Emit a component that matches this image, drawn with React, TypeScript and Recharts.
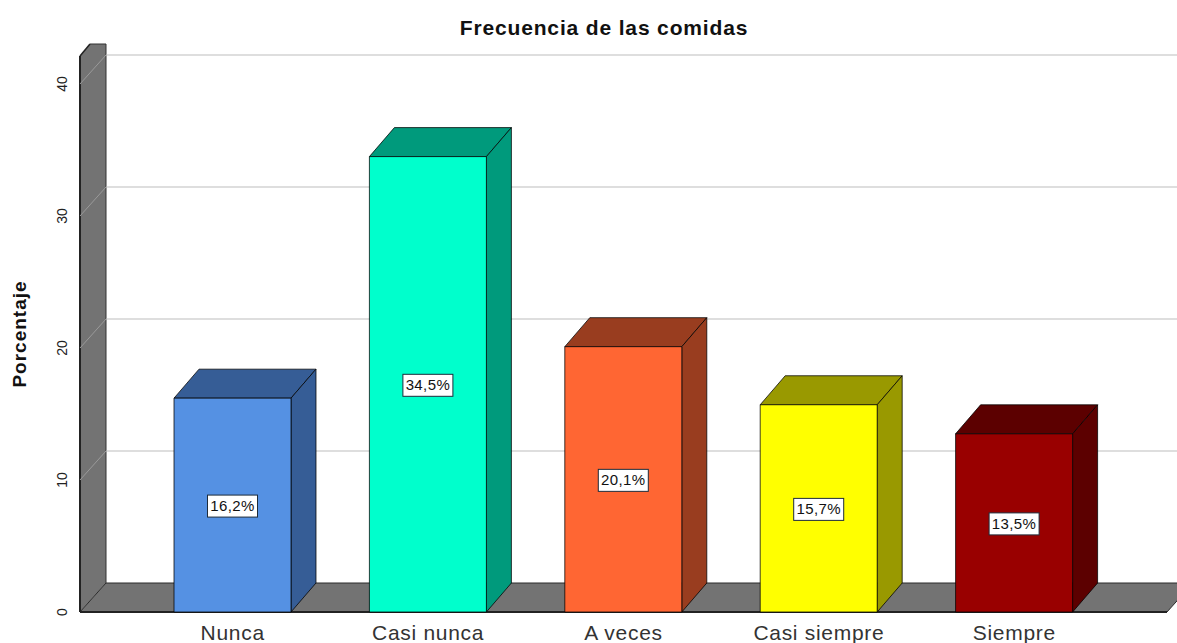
import { Bar, BarChart, Cell, LabelList, ReferenceArea, ReferenceLine, XAxis, YAxis } from 'recharts';

const categories = ['Nunca', 'Casi nunca', 'A veces', 'Casi siempre', 'Siempre'];
const percentages = [16.2, 34.5, 20.1, 15.7, 13.5];
const yTicks = [0, 10, 20, 30, 40];
const gridValues = [10, 20, 30, 40];
const frontColors = ['#5591e3', '#00ffcc', '#ff6633', '#ffff00', '#990000'];
const sideColors = ['#365d96', '#009a7c', '#993d1f', '#999900', '#5c0000'];

const data = categories.map((name, i) => ({ name, value: percentages[i] }));

const FONT = '"Liberation Sans", Arial, sans-serif';
// 3d offset of the back wall
const DX = 25;
const DY = 29;
// x axis padding, the reference area only spans the padded range
const PAD = 55;

// gray wall + floor, takes the plot rectangle from the reference area
function WallAndFloor({ x: bandLeft, y, width, height }: any) {
  const x = bandLeft - PAD;
  const bottom = y + height;
  const right = bandLeft + width + PAD;
  return (
    <g>
      <polygon
        points={`${x},${bottom} ${x},${y - 28} ${x + 10},${y - 40} ${x + DX + 1},${y - 40} ${x + DX + 1},${bottom - DY} `}
        fill="#737373"
      />
      <polygon
        points={`${x},${bottom} ${x + DX + 1},${bottom - DY} ${right + DX + 1},${bottom - DY} ${right},${bottom}`}
        fill="#737373"
        stroke="#2b2b2b"
        strokeWidth={1}
      />
      <line x1={x} y1={bottom} x2={x} y2={y - 28} stroke="#222" strokeWidth={2} />
      <line x1={x} y1={y - 28} x2={x + 10} y2={y - 40} stroke="#222" strokeWidth={1.5} />
      <line x1={x + 10} y1={y - 40} x2={x + DX + 1} y2={y - 40} stroke="#333" strokeWidth={1} />
      <line x1={x + DX + 1} y1={y - 40} x2={x + DX + 1} y2={bottom - DY} stroke="#333" strokeWidth={1} />
      <line x1={x} y1={bottom} x2={right} y2={bottom} stroke="#222" strokeWidth={2} />
    </g>
  );
}

// gridline on the back wall, with the diagonal across the side wall
function WallGridLine({ x1, y1, x2 }: any) {
  return (
    <g>
      <line x1={x1 + DX + 1} y1={y1 - DY} x2={x2 + DX + 1} y2={y1 - DY} stroke="#bdbdbd" strokeWidth={1} />
      <line x1={x1} y1={y1} x2={x1 + DX + 1} y2={y1 - DY} stroke="#9a9a9a" strokeWidth={1} />
    </g>
  );
}

function Bar3D({ x, y, width, height, index }: any) {
  const side = sideColors[index];
  const edge = 'rgba(0,0,0,0.75)';
  return (
    <g stroke={edge} strokeWidth={1} strokeLinejoin="round">
      <polygon points={`${x},${y} ${x + DX},${y - DY} ${x + width + DX},${y - DY} ${x + width},${y}`} fill={side} />
      <polygon
        points={`${x + width},${y} ${x + width + DX},${y - DY} ${x + width + DX},${y + height - DY} ${x + width},${y + height}`}
        fill={side}
      />
      <rect x={x} y={y} width={width} height={height} fill={frontColors[index]} />
    </g>
  );
}

function ValueLabel({ x, y, width, height, value }: any) {
  const cx = x + width / 2;
  const cy = y + height / 2 + 1;
  return (
    <g>
      <rect x={cx - 25} y={cy - 11} width={50} height={22} fill="#fff" stroke="#1d2b3a" strokeWidth={1} />
      <text x={cx} y={cy + 5} textAnchor="middle" fontFamily={FONT} fontSize={15} letterSpacing={0.4} fill="#111">
        {`${String(value).replace('.', ',')}%`}
      </text>
    </g>
  );
}

function RotatedTick({ y, payload }: any) {
  return (
    <text
      x={62}
      y={y}
      transform={`rotate(-90 ${62} ${y})`}
      textAnchor="middle"
      dominantBaseline="central"
      fontFamily={FONT}
      fontSize={14}
      fill="#222"
    >
      {payload.value}
    </text>
  );
}

function CategoryTick({ x, payload }: any) {
  return (
    <text x={x} y={640} textAnchor="middle" fontFamily={FONT} fontSize={21} letterSpacing={0.7} fill="#333">
      {payload.value}
    </text>
  );
}

function YTitle() {
  return (
    <text
      transform="translate(26 334) rotate(-90)"
      textAnchor="middle"
      fontFamily={FONT}
      fontSize={19}
      fontWeight="bold"
      letterSpacing={1}
      fill="#111"
    >
      Porcentaje
    </text>
  );
}

export default function App() {
  return (
    <div style={{ position: 'absolute', left: 0, top: 0, width: 1177, height: 643, background: '#fff', overflow: 'hidden' }}>
      <div
        style={{
          position: 'absolute',
          left: 0,
          width: 1208,
          top: 16,
          textAlign: 'center',
          fontFamily: FONT,
          fontWeight: 'bold',
          fontSize: 21,
          letterSpacing: 0.85,
          color: '#111',
          lineHeight: '24px',
        }}
      >
        Frecuencia de las comidas
      </div>
      <BarChart
        width={1177}
        height={643}
        data={data}
        margin={{ top: 84, right: 10, left: 0, bottom: 0 }}
        barSize={117}
      >
        <XAxis
          dataKey="name"
          interval={0}
          height={31}
          padding={{ left: PAD, right: PAD }}
          axisLine={false}
          tickLine={false}
          tick={<CategoryTick />}
        />
        <YAxis
          width={80}
          domain={[0, 40]}
          ticks={yTicks}
          axisLine={false}
          tickLine={false}
          tick={<RotatedTick />}
          label={<YTitle />}
        />
        <ReferenceArea y1={0} y2={40} ifOverflow="visible" zIndex={-100} shape={<WallAndFloor />} />
        {gridValues.map((v) => (
          <ReferenceLine key={v} y={v} ifOverflow="visible" zIndex={-90} shape={<WallGridLine />} />
        ))}
        <Bar dataKey="value" isAnimationActive={false} shape={<Bar3D />}>
          {data.map((d, i) => (
            <Cell key={d.name} fill={frontColors[i]} />
          ))}
          <LabelList dataKey="value" content={<ValueLabel />} />
        </Bar>
      </BarChart>
    </div>
  );
}
